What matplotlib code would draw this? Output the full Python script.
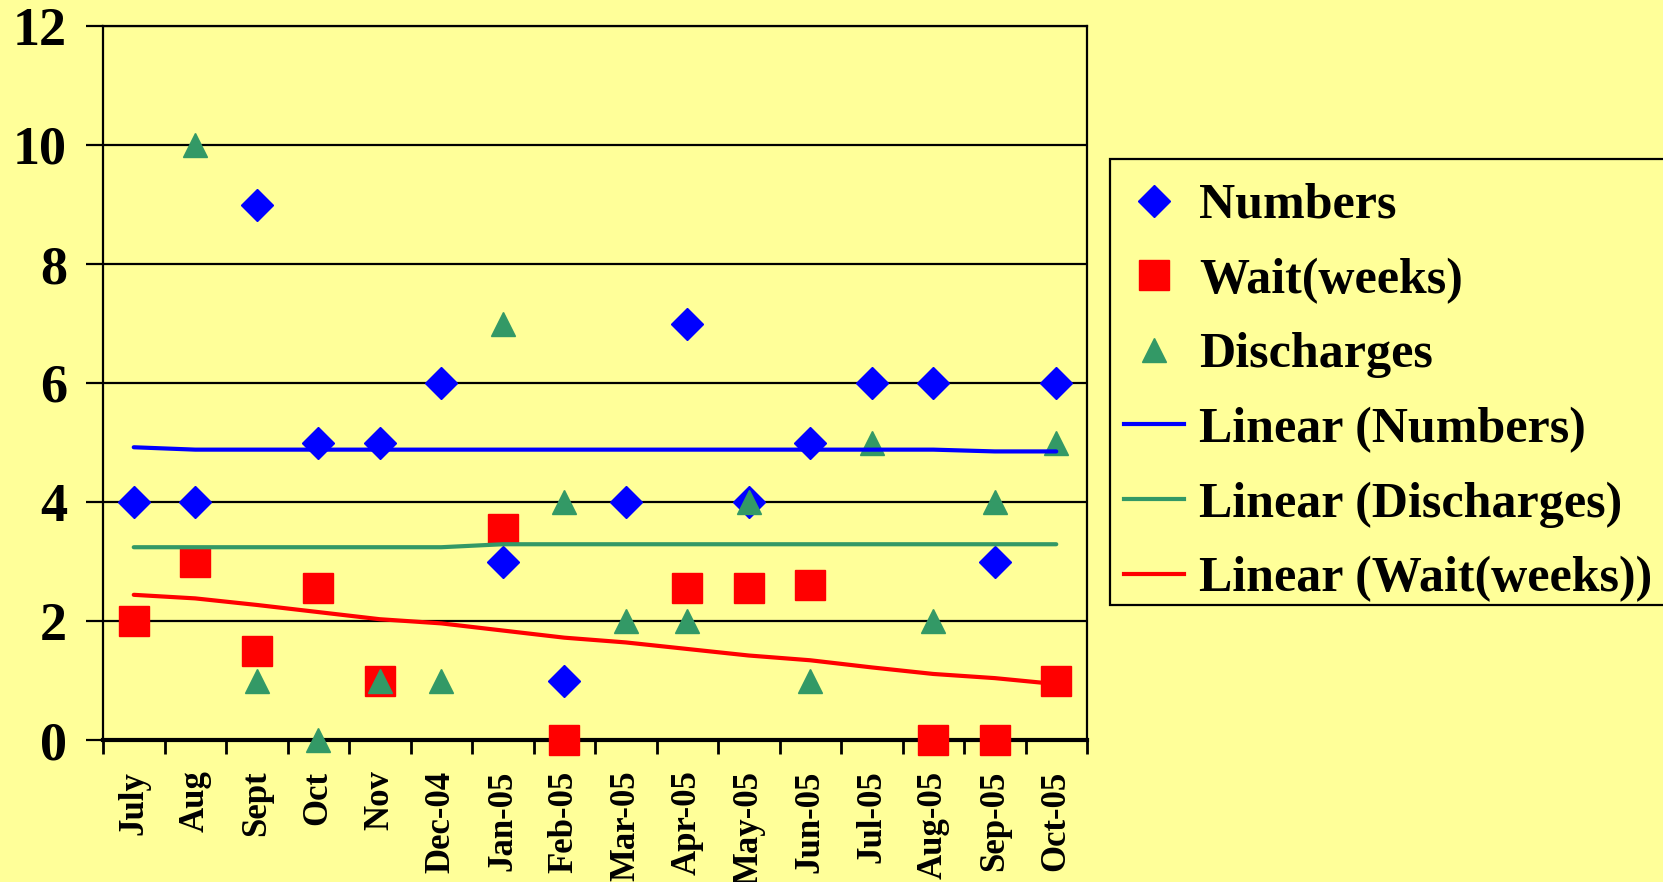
import numpy as np
import matplotlib
matplotlib.use('Agg')
import matplotlib.pyplot as plt
from matplotlib.lines import Line2D
from matplotlib.patches import Rectangle

# data
months = ['July', 'Aug', 'Sept', 'Oct', 'Nov', 'Dec-04', 'Jan-05', 'Feb-05',
          'Mar-05', 'Apr-05', 'May-05', 'Jun-05', 'Jul-05', 'Aug-05', 'Sep-05', 'Oct-05']
numbers = [4, 4, 9, 5, 5, 6, 3, 1, 4, 7, 4, 5, 6, 6, 3, 6]
wait_weeks = [2, 3, 1.5, 2.55, 1, np.nan, 3.55, 0, np.nan, 2.55, 2.55, 2.6, np.nan, 0, 0, 1]
discharges = [np.nan, 10, 1, 0, 1, 1, 7, 4, 2, 2, 4, 1, 5, 2, 4, 5]

# trend lines as they appear in the chart
trend_numbers = [4.92, 4.88, 4.88, 4.88, 4.88, 4.88, 4.88, 4.88,
                 4.88, 4.88, 4.88, 4.88, 4.88, 4.88, 4.85, 4.85]
trend_discharges = [3.24, 3.24, 3.24, 3.24, 3.24, 3.24, 3.29, 3.29,
                    3.29, 3.29, 3.29, 3.29, 3.29, 3.29, 3.29, 3.29]
trend_wait = [2.44, 2.38, 2.27, 2.15, 2.03, 1.96, 1.84, 1.72,
              1.64, 1.53, 1.42, 1.34, 1.22, 1.11, 1.04, 0.94]

BG = '#FFFF99'
BLUE = '#0000FF'
RED = '#FF0000'
GREEN = '#339966'
FONT = 'Liberation Serif'

plt.rcParams['font.family'] = FONT
plt.rcParams['font.weight'] = 'bold'

W, H = 1663, 882
fig = plt.figure(figsize=(W/100, H/100), dpi=100, facecolor=BG)
ax = fig.add_axes([103/W, 1 - 740/H, (1087 - 103)/W, (740 - 26)/H])
ax.set_facecolor(BG)

x = np.arange(len(months))

ax.plot(x, numbers, linestyle='none', marker='D', ms=15.8, color=BLUE, mec=BLUE,
        zorder=3, clip_on=False)
ax.plot(x, wait_weeks, linestyle='none', marker='s', ms=21.6, color=RED, mec=RED,
        zorder=3, clip_on=False)
ax.plot(x, discharges, linestyle='none', marker='^', ms=17.5, color=GREEN, mec=GREEN,
        zorder=3, clip_on=False)

ax.plot(x, trend_numbers, color=BLUE, lw=3, solid_capstyle='round', zorder=4)
ax.plot(x, trend_discharges, color=GREEN, lw=3, solid_capstyle='round', zorder=4)
ax.plot(x, trend_wait, color=RED, lw=3, solid_capstyle='round', zorder=4)

ax.set_xlim(-0.5, len(months) - 0.5)
ax.set_ylim(0, 12)
ax.set_yticks(np.arange(0, 13, 2))
ax.set_yticklabels([str(v) for v in range(0, 13, 2)], fontsize=39, fontweight='bold')
ax.yaxis.grid(True, color='black', lw=1.6)
ax.set_axisbelow(True)

ax.set_xticks(np.arange(-0.5, len(months), 1.0))
ax.set_xticklabels([])
ax.set_xticks(x, minor=True)
ax.set_xticklabels(months, minor=True, rotation=90, fontsize=25, fontweight='bold',
                   va='top', ha='center')
ax.tick_params(axis='x', which='major', length=10, width=2, direction='out')
ax.tick_params(axis='x', which='minor', length=0, pad=22)
ax.tick_params(axis='y', length=12, width=1.6, direction='out', pad=14)

for side in ['left', 'right', 'top']:
    ax.spines[side].set_linewidth(1.6)
    ax.spines[side].set_color('black')
ax.spines['bottom'].set_linewidth(3)

# legend box (runs off the right edge like the original)
fig.patches.append(Rectangle((1110/W, 1 - 605/H), 0.5, (605 - 159)/H,
                             transform=fig.transFigure, facecolor=BG,
                             edgecolor='black', lw=1.6, zorder=1))

handles = [
    Line2D([], [], linestyle='none', marker='D', ms=15.8, color=BLUE),
    Line2D([], [], linestyle='none', marker='s', ms=21.6, color=RED),
    Line2D([], [], linestyle='none', marker='^', ms=17.5, color=GREEN),
    Line2D([], [], color=BLUE, lw=3),
    Line2D([], [], color=GREEN, lw=3),
    Line2D([], [], color=RED, lw=3),
]
labels = ['Numbers', 'Wait(weeks)', 'Discharges', 'Linear (Numbers)',
          'Linear (Discharges)', 'Linear (Wait(weeks))']
leg = fig.legend(handles, labels, loc='upper left',
                 bbox_to_anchor=(1109/W, 1 - 168/H),
                 prop={'family': FONT, 'weight': 'bold', 'size': 36},
                 frameon=False, handlelength=1.2, handletextpad=0.3,
                 labelspacing=0.57, borderpad=0.3, borderaxespad=0, numpoints=1)
leg.set_zorder(5)

fig.savefig('out.png', dpi=100, facecolor=BG)
